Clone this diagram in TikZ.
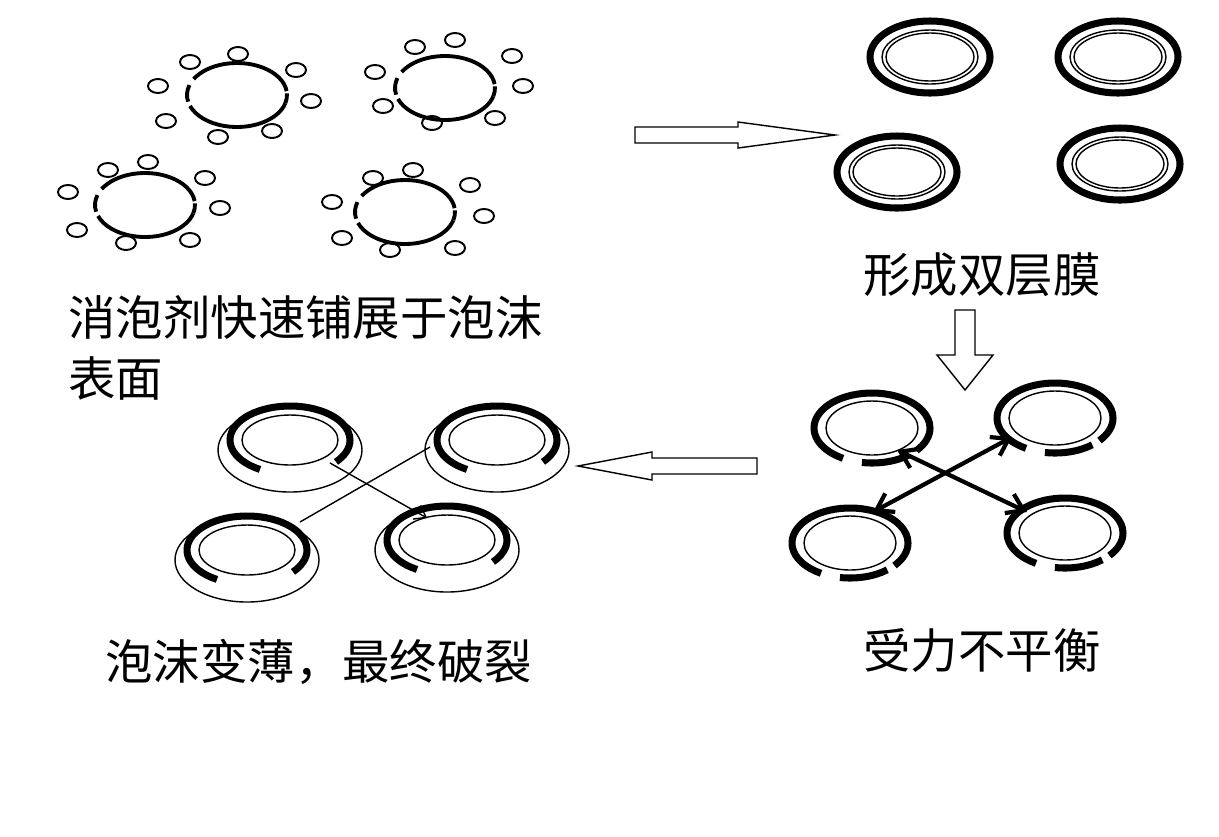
\documentclass[tikz,border=0pt]{standalone}
\usepackage{fontspec}
\newfontfamily\cjk{Noto Sans CJK SC}
\usetikzlibrary{arrows.meta,calc}
\tikzset{
  drop/.style={line width=1.1pt},
  film/.style={line width=2.2pt},
  thickfilm/.style={line width=4pt},
  thin/.style={line width=0.8pt},
  hollow/.style={draw=black,line width=0.8pt,fill=white},
  label/.style={font=\cjk\fontsize{27}{34}\selectfont,inner sep=0pt}
}
\newcommand{\foam}[2]{% centre, name
  \coordinate (#2) at (#1);
  \draw[film] ($(#2)+(15:50 and 32)$) arc[start angle=15,end angle=160,x radius=50,y radius=32];
  \draw[film] ($(#2)+(168:50 and 32)$) arc[start angle=168,end angle=198,x radius=50,y radius=32];
  \draw[film] ($(#2)+(210:50 and 32)$) arc[start angle=210,end angle=353,x radius=50,y radius=32];
  \draw[film] ($(#2)+(357:50 and 32)$) arc[start angle=357,end angle=375,x radius=50,y radius=32];
}
\newcommand{\layer}[1]{%
  \draw[thickfilm] (#1) ellipse[x radius=60,y radius=36];
  \draw[thin] (#1) ellipse[x radius=48,y radius=27];
  \draw[thin] (#1) ellipse[x radius=44,y radius=24];
}
\newcommand{\shaky}[1]{%
  \draw[thickfilm] ($(#1)+(120:58 and 35)$) arc[start angle=120,end angle=400,x radius=58,y radius=35];
  \draw[thickfilm] ($(#1)+(50:58 and 35)$) arc[start angle=50,end angle=100,x radius=58,y radius=35];
  \draw[thin] (#1) ellipse[x radius=46,y radius=27];
}
\newcommand{\thinfoam}[2]{%
  \coordinate (#2) at (#1);
  \draw[thin,fill=white] ($(#2)+(0,10)$) ellipse[x radius=72,y radius=42];
  \draw[thickfilm] ($(#2)+(120:60 and 34)$) arc[start angle=120,end angle=400,x radius=60,y radius=34];
  \draw[thin] (#2) ellipse[x radius=48,y radius=25];
}
\begin{document}
\begin{tikzpicture}[x=0.02cm,y=-0.02cm]
\useasboundingbox (0,0) rectangle (1219,836);
% foam with defoamer droplets
\foam{237,95}{fA}
\foam{445,88}{fB}
\foam{145,205}{fC}
\foam{405,212}{fD}
\foreach \p in {(158,86),(190,62),(238,54),(296,70),(311,101),(272,131),(218,137),(166,121),
  (375,72),(415,47),(455,40),(512,56),(523,86),(495,118),(432,123),(383,106),
  (68,192),(108,170),(148,162),(205,178),(220,208),(190,240),(126,243),(77,230),
  (332,202),(373,178),(413,170),(470,185),(484,216),(455,248),(390,250),(342,238)}
  \draw[drop] \p ellipse[x radius=10,y radius=7];
\node[label,anchor=west] (t1) at (68,318) {消泡剂快速铺展于泡沫};
\node[label,anchor=west] (t1b) at (68,378) {表面};
% double layer
\layer{930,57}
\layer{1118,57}
\layer{897,172}
\layer{1120,164}
\node[label] (t2) at (982,275) {形成双层膜};
% unbalanced
\shaky{872,428}
\shaky{1055,418}
\shaky{850,543}
\shaky{1065,533}
\coordinate (a1) at (897,450);
\coordinate (a2) at (1027,512);
\coordinate (b1) at (873,512);
\coordinate (b2) at (1012,437);
\draw[line width=2.4pt,{Straight Barb[length=9pt,width=12pt]}-{Straight Barb[length=9pt,width=12pt]}] (a1) -- (a2);
\draw[line width=2.4pt,{Straight Barb[length=9pt,width=12pt]}-{Straight Barb[length=9pt,width=12pt]}] (b1) -- (b2);
\node[label] (t3) at (982,650) {受力不平衡};
% thinning and rupture
\thinfoam{290,440}{gA}
\thinfoam{497,440}{gB}
\thinfoam{247,550}{gC}
\thinfoam{447,540}{gD}
\coordinate (c1) at (330,463);
\coordinate (c2) at (427,518);
\coordinate (d1) at (300,522);
\coordinate (d2) at (430,447);
\draw[thin,-{Straight Barb[length=6pt,width=9pt]}] (c1) -- (c2);
\draw[thin] (d1) -- (d2);
\node[label,anchor=west] (t4) at (105,662) {泡沫变薄，最终破裂};
% big hollow arrows
\draw[hollow] (635,127) -- (738,127) -- (738,122) -- (835,135) -- (738,148) -- (738,143) -- (635,143) -- cycle;
\draw[hollow] (955,310) -- (975,310) -- (975,355) -- (993,355) -- (965,390) -- (937,355) -- (955,355) -- cycle;
\draw[hollow] (757,458) -- (652,458) -- (652,452) -- (578,466) -- (652,480) -- (652,474) -- (757,474) -- cycle;
\end{tikzpicture}
\end{document}
